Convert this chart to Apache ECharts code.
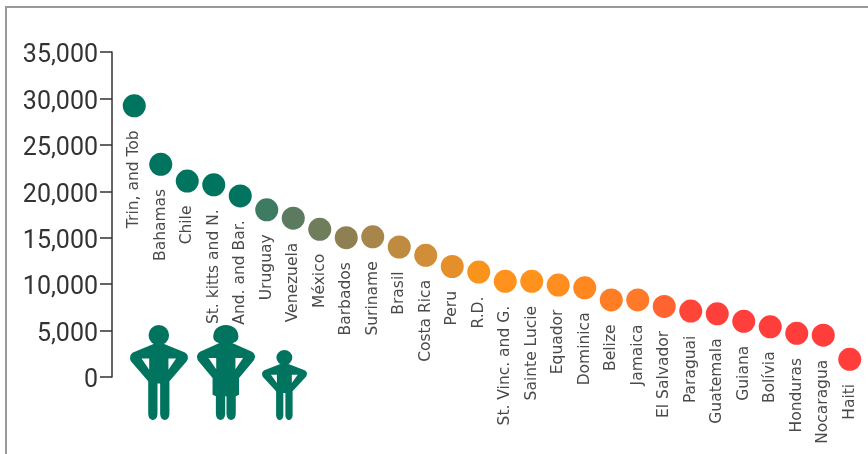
<!DOCTYPE html>
<html><head><meta charset="utf-8">
<style>html,body{margin:0;padding:0;background:#fff;overflow:hidden}#c{width:868px;height:454px;filter:blur(0.5px)}</style>
<script src="https://cdn.jsdelivr.net/npm/echarts@6/dist/echarts.min.js"></script>
</head><body><div id="c"></div>
<script>
const countries = ["Trin, and Tob","Bahamas","Chile","St. kitts and N.","And. and Bar.","Uruguay","Venezuela","México","Barbados","Suriname","Brasil","Costa Rica","Peru","R.D.","St. Vinc. and G.","Sainte Lucie","Equador","Dominica","Belize","Jamaica","El Salvador","Paraguai","Guatemala","Guiana","Bolívia","Honduras","Nocaragua","Haiti"];
const values = [29200,22900,21100,20700,19500,18000,17100,15900,15000,15100,14000,13100,11900,11300,10300,10300,9900,9600,8300,8300,7600,7100,6800,6000,5400,4700,4500,1900];
const pointColors = ["#00745f","#00745f","#00745f","#00745f","#00745f","#3f7a63","#5c7a60","#6f7d5c","#8f8053","#a8864b","#bf8b40","#d28d38","#e58f2a","#f8931c","#ff921c","#ff921c","#ff8e1e","#ff8720","#ff7d24","#ff7a28","#ff6430","#ff4438","#ff403a","#ff3f3c","#ff3e3c","#ff3e3c","#ff3e3c","#ff3e3c"];
const yTicks = {min:0,max:35000,interval:5000};

const manPath = "M55 30A31 31 0 1 1 117 30A31 31 0 1 1 55 30Z M70 56L102 56L165 82Q180 92 170 108L118 168L118 268Q116 285 104 285Q92 285 90 268L90 175L82 175L82 268Q80 285 68 285Q56 285 54 268L54 168L2 108Q-6 92 8 82Z M115 100L115 134L138 100Z M57 100L34 100L57 134Z";
const womanPath = "M48 36Q50 4 86 2Q122 4 124 36Q124 58 86 58Q48 58 48 36Z M70 54L102 54L165 82Q180 92 170 108L126 160L126 210L116 214L116 268Q114 285 102 285Q90 285 88 268L88 214L84 214L84 268Q82 285 70 285Q58 285 56 268L56 214L46 210L46 160L2 108Q-6 92 8 82Z M115 100L115 134L138 100Z M57 100L34 100L57 134Z";
const fig = (d,x,y,w,h)=>({type:'path',shape:{pathData:d,x,y,width:w,height:h,layout:'cover'},style:{fill:'#00745f'},silent:true});

const chart = echarts.init(document.getElementById('c'),null,{renderer:'canvas'});
chart.setOption({
  animation:false,
  backgroundColor:'#fff',
  grid:{left:121,right:5,top:52,bottom:77},
  xAxis:{type:'category',data:countries,show:false},
  yAxis:{type:'value',min:yTicks.min,max:yTicks.max,interval:yTicks.interval,offset:9,
    axisLine:{show:true,lineStyle:{color:'#333',width:1.5}},
    axisTick:{show:true,length:12,lineStyle:{color:'#333',width:1.5}},
    splitLine:{show:false},
    axisLabel:{margin:14,fontFamily:'Roboto',fontSize:25,color:'#333',verticalAlign:'top',lineHeight:8,
      formatter:v=>v.toLocaleString('en-US')}},
  series:[{type:'scatter',symbol:'circle',symbolSize:23,
    data:values.map((v,i)=>({value:v,itemStyle:{color:pointColors[i],opacity:1}})),
    label:{show:true,position:'bottom',distance:10,rotate:90,align:'right',verticalAlign:'middle',
      offset:[-3,0],formatter:p=>p.name,fontFamily:'DejaVu Sans',fontSize:15.5,color:'#4a4a4a'}},
    {type:'custom',silent:true,clip:false,coordinateSystem:'none',data:[0],
     renderItem:()=>({type:'group',children:[
       fig(manPath,130,325,58,95),
       fig(womanPath,197,325,58,95),
       fig(manPath,262,350,45,70)]})}
  ],
  graphic:[
    {type:'rect',shape:{x:6,y:7,width:900,height:500},style:{fill:'none',stroke:'#999',lineWidth:2},silent:true}
  ]
});
</script></body></html>
